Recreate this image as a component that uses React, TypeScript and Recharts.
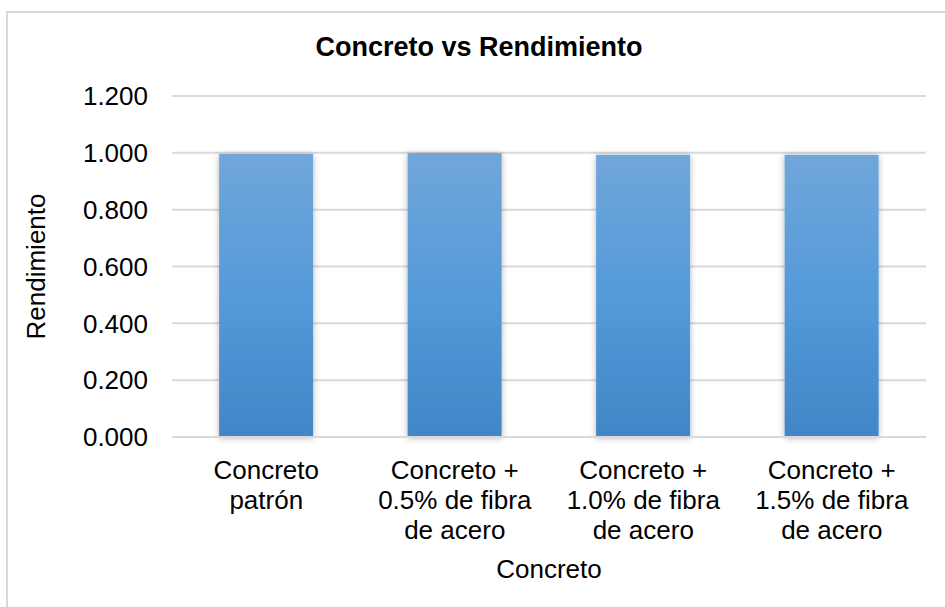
import React from 'react';
import { BarChart, Bar, XAxis, YAxis, CartesianGrid } from 'recharts';

// ---------------------------------------------------------------------------
// Data
// ---------------------------------------------------------------------------
const CATEGORIES = [
  'Concreto patrón',
  'Concreto + 0.5% de fibra de acero',
  'Concreto + 1.0% de fibra de acero',
  'Concreto + 1.5% de fibra de acero',
];
const CATEGORY_LINES = [
  ['Concreto', 'patrón'],
  ['Concreto +', '0.5% de fibra', 'de acero'],
  ['Concreto +', '1.0% de fibra', 'de acero'],
  ['Concreto +', '1.5% de fibra', 'de acero'],
];
const RENDIMIENTO = [0.996, 0.999, 0.993, 0.993];
const Y_TICKS = [0, 0.2, 0.4, 0.6, 0.8, 1.0, 1.2];

const FONT = '"Liberation Sans", Arial, sans-serif';
const TEXT = '#000000';
const GRID = '#d9d9d9';

const data = CATEGORIES.map((name, i) => ({
  name,
  value: RENDIMIENTO[i],
}));

// ---------------------------------------------------------------------------
// Multi-line category tick
// ---------------------------------------------------------------------------
function CategoryTick({ x, y, payload }: any) {
  const idx = CATEGORIES.indexOf(payload.value);
  const lines = CATEGORY_LINES[idx] || [payload.value];
  return (
    <text x={x} y={y} textAnchor="middle" fill={TEXT} fontSize={26} fontFamily={FONT}>
      {lines.map((line, i) => (
        <tspan key={i} x={x} dy={i === 0 ? 42 : 30}>
          {line}
        </tspan>
      ))}
    </text>
  );
}

export default function App() {
  return (
    <div
      style={{
        position: 'absolute',
        left: 0,
        top: 0,
        width: 945,
        height: 607,
        background: '#fff',
        overflow: 'hidden',
        fontFamily: FONT,
      }}
    >
      {/* chart area border */}
      <div
        style={{
          position: 'absolute',
          left: 6,
          top: 11,
          width: 960,
          height: 620,
          border: `2px solid ${GRID}`,
        }}
      />
      {/* title */}
      <div
        style={{
          position: 'absolute',
          left: 0,
          top: 32,
          width: 958,
          textAlign: 'center',
          fontSize: 27,
          fontWeight: 700,
          color: TEXT,
          lineHeight: '30px',
        }}
      >
        Concreto vs Rendimiento
      </div>
      <div style={{ position: 'absolute', left: 0, top: 0 }}>
        <BarChart
          width={945}
          height={607}
          data={data}
          margin={{ top: 96, right: 19, bottom: 0, left: 0 }}
          barCategoryGap="25%"
        >
          <defs>
            <linearGradient id="barFill" x1="0" y1="0" x2="0" y2="1">
              <stop offset="0%" stopColor="#70a6da" />
              <stop offset="50%" stopColor="#559ad9" />
              <stop offset="100%" stopColor="#4186c7" />
            </linearGradient>
            <filter id="barShadow" x="-20%" y="-5%" width="140%" height="110%">
              <feDropShadow dx="0" dy="1" stdDeviation="3" floodColor="#000" floodOpacity="0.3" />
            </filter>
          </defs>
          <CartesianGrid vertical={false} stroke={GRID} strokeWidth={2} />
          <XAxis
            dataKey="name"
            height={170}
            axisLine={{ stroke: GRID, strokeWidth: 2 }}
            tickLine={false}
            tickSize={0}
            tickMargin={0}
            interval={0}
            tick={<CategoryTick />}
            label={{
              value: 'Concreto',
              position: 'insideBottom',
              offset: 29,
              fill: TEXT,
              fontSize: 26,
              fontFamily: FONT,
            }}
          />
          <YAxis
            width={172}
            domain={[0, 1.2]}
            ticks={Y_TICKS}
            axisLine={false}
            tickLine={false}
            tickSize={0}
            tickMargin={24}
            tickFormatter={(v: number) => v.toFixed(3)}
            tick={{ fill: TEXT, fontSize: 26, fontFamily: FONT }}
            label={{
              value: 'Rendimiento',
              angle: -90,
              position: 'insideLeft',
              offset: 36,
              fill: TEXT,
              fontSize: 26,
              fontFamily: FONT,
              style: { textAnchor: 'middle' },
            }}
          />
          <Bar
            dataKey="value"
            fill="url(#barFill)"
            filter="url(#barShadow)"
            isAnimationActive={false}
          />
        </BarChart>
      </div>
    </div>
  );
}
